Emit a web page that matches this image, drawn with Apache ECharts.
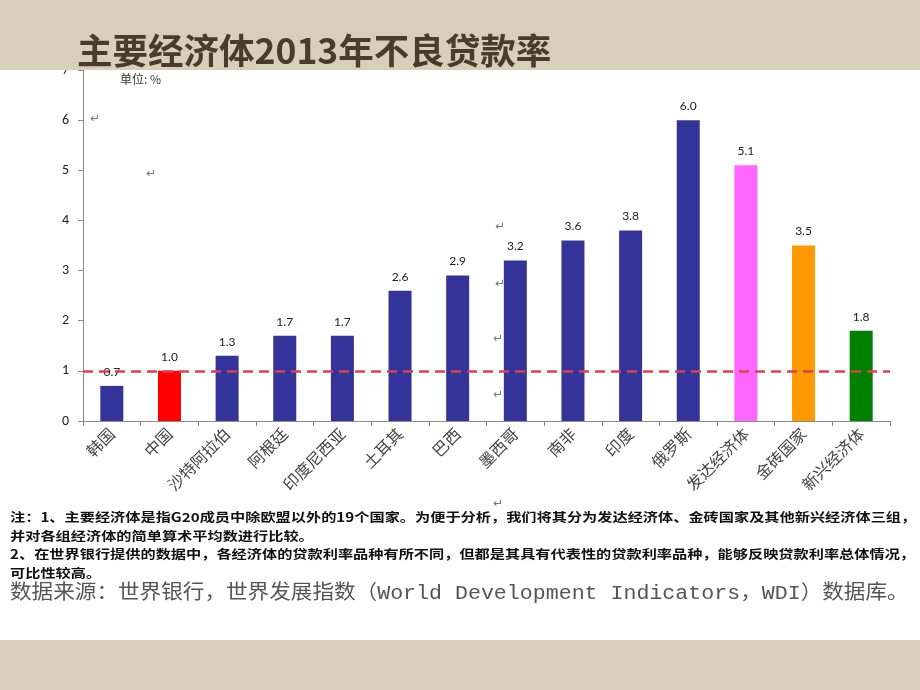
<!DOCTYPE html>
<html><head><meta charset="utf-8">
<script src="https://cdn.jsdelivr.net/npm/echarts@6/dist/echarts.min.js"></script>
<style>html,body{margin:0;padding:0;background:#d8cfba;}#c{width:920px;height:690px;}</style>
</head><body><div id="c"></div>
<script>
const categories = ['韩国','中国','沙特阿拉伯','阿根廷','印度尼西亚','土耳其','巴西','墨西哥','南非','印度','俄罗斯','发达经济体','金砖国家','新兴经济体'];
const values = [0.7,1.0,1.3,1.7,1.7,2.6,2.9,3.2,3.6,3.8,6.0,5.1,3.5,1.8];
const barColors = ['#333399','#ff0000','#333399','#333399','#333399','#333399','#333399','#333399','#333399','#333399','#333399','#ff66ff','#ff9900','#008000'];
const referenceLine = 1;
const yTicks = [0,1,2,3,4,5,6,7];
const titleText = '主要经济体2013年不良贷款率';
const unitText = '单位: %';
const noteLines = [
  '注：1、主要经济体是指G20成员中除欧盟以外的19个国家。为便于分析，我们将其分为发达经济体、金砖国家及其他新兴经济体三组，',
  '并对各组经济体的简单算术平均数进行比较。',
  '2、在世界银行提供的数据中，各经济体的贷款利率品种有所不同，但都是其具有代表性的贷款利率品种，能够反映贷款利率总体情况，',
  '可比性较高。'
];
const sourceText = '数据来源：世界银行，世界发展指数（World Development Indicators，WDI）数据库。';

const chart = echarts.init(document.getElementById('c'), null, {renderer:'canvas'});
const cjk = "'Noto Sans CJK SC', sans-serif";
const marks = [[90,120],[146,175],[495,228],[495,285],[493,340],[493,396],[493,505]];
chart.setOption({
  backgroundColor: '#d8cfba',
  animation: false,
  grid: {left: 83, right: 30, top: 70, bottom: 269},
  xAxis: {
    type: 'category', data: categories,
    axisLine: {lineStyle: {color: '#8a8a8a', width: 1}},
    axisTick: {show: true, alignWithLabel: false, length: 5, lineStyle: {color: '#8a8a8a'}},
    axisLabel: {rotate: 45, fontSize: 16, color: '#444', fontFamily: cjk, margin: 10, interval: 0}
  },
  yAxis: {
    type: 'value', min: yTicks[0], max: yTicks[yTicks.length-1], interval: 1,
    axisLine: {show: true, lineStyle: {color: '#8a8a8a'}},
    axisTick: {show: true, length: 5, lineStyle: {color: '#8a8a8a'}},
    splitLine: {show: false},
    axisLabel: {fontSize: 14, color: '#222', margin: 14, fontFamily: 'Calibri, Carlito, Lato, sans-serif'}
  },
  series: [{
    type: 'bar',
    data: values.map((v,i)=>({value: v, itemStyle: {color: barColors[i]}})),
    barWidth: 23,
    label: {show: true, position: 'top', distance: 8, fontSize: 12, color: '#222',
      fontFamily: 'Lato, sans-serif', formatter: p => p.value.toFixed(1)},
    markLine: {
      silent: true, symbol: 'none',
      label: {show: false},
      lineStyle: {color: '#d9424e', type: [10,6], width: 2.5},
      data: [{yAxis: referenceLine}]
    },
    z: 3
  }],
  graphic: [
    {type: 'rect', z: -100, silent: true, shape: {x: 0, y: 70, width: 920, height: 570}, style: {fill: '#ffffff'}},
    {type: 'rect', z: 100, silent: true, shape: {x: 0, y: 0, width: 920, height: 70}, style: {fill: '#d8cfba'}},
    {type: 'text', z: 101, left: 77, top: 33, style: {text: titleText, fontSize: 35.5, fontWeight: 'bold', fill: '#4a3b2c', fontFamily: cjk}},
    {type: 'text', z: 101, left: 120, top: 73, style: {text: unitText, fontSize: 12, fill: '#333', fontFamily: cjk}},
    {type: 'text', z: 101, x: 10, y: 508, scaleX: 1.215, style: {text: noteLines.join('\n'), fontSize: 12.5, lineHeight: 18.6, fontWeight: 'bold', fill: '#111', fontFamily: cjk}},
    {type: 'text', z: 101, x: 10, y: 584, scaleX: 1.08, style: {text: sourceText, fontSize: 20, lineHeight: 20, fill: '#555', fontFamily: "'Liberation Mono', 'Noto Sans CJK SC', monospace"}}
  ].concat(marks.map(m => ({type: 'text', z: 101, left: m[0], top: m[1]-7, style: {text: '↵', fontSize: 12, fill: '#777', fontFamily: 'DejaVu Sans'}})))
});
</script></body></html>
